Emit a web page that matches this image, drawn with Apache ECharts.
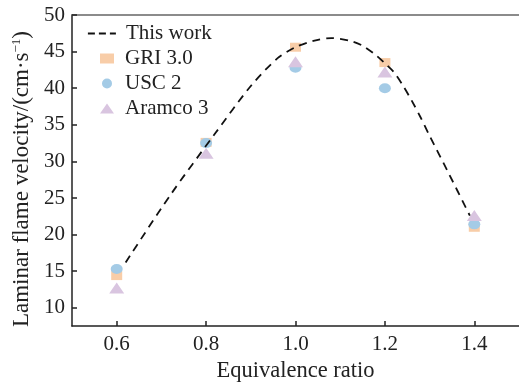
<!DOCTYPE html>
<html>
<head>
<meta charset="utf-8">
<script src="https://cdn.jsdelivr.net/npm/echarts@6/dist/echarts.min.js"></script>
<style>
  html, body { margin: 0; padding: 0; background: #fff; }
  #chart { width: 519px; height: 388px; }
</style>
</head>
<body>
<div id="chart"></div>
<script>
// Equivalence ratios where the mechanisms were evaluated
const ratios = [0.6, 0.8, 1.0, 1.2, 1.4];
// Laminar flame velocity (cm/s) predicted by each mechanism
const gri30 = [14.4, 32.6, 45.6, 43.5, 21.0];
const usc2 = [15.3, 32.5, 42.8, 40.0, 21.4];
const aramco3 = [12.7, 31.1, 43.6, 42.2, 22.6];
// Curve of the present mechanism
const fitPhi = [0.62, 0.72, 0.82, 0.90, 0.96, 1.00, 1.04, 1.08, 1.12, 1.15, 1.18, 1.20, 1.22, 1.24, 1.26, 1.28, 1.30, 1.34, 1.39];
const fitSpeed = [16.2, 25.4, 33.8, 40.3, 44.1, 45.6, 46.45, 46.85, 46.5, 45.8, 44.5, 43.4, 42.2, 40.4, 38.3, 36.0, 33.5, 28.7, 22.6];
// Axis tick values
const xTicks = [0.6, 0.8, 1.0, 1.2, 1.4];
const yTicks = [10, 15, 20, 25, 30, 35, 40, 45, 50];

const FONT = "'Liberation Serif', 'Times New Roman', serif";
const TEXT = '#222';

const pairs = (xs, ys) => xs.map((x, i) => [x, ys[i]]);

const chart = echarts.init(document.getElementById('chart'));
chart.setOption({
  animation: false,
  backgroundColor: '#fff',
  textStyle: { fontFamily: FONT, color: TEXT },
  grid: { left: 72, top: 15, right: -5, bottom: 60 },
  legend: [
    {
      data: ['This work'],
      orient: 'vertical', left: 87, top: 23, padding: 0,
      itemWidth: 28, itemHeight: 14,
      lineStyle: { type: [7, 4], width: 1.8, color: '#111' },
      itemStyle: { opacity: 0 },
      textStyle: { fontFamily: FONT, fontSize: 21, color: TEXT, padding: [0, 0, 0, 5] }
    },
    {
      data: ['GRI 3.0', 'USC 2', 'Aramco 3'],
      orient: 'vertical', left: 100, top: 48, padding: 0,
      itemWidth: 14, itemHeight: 10, itemGap: 4,
      symbolKeepAspect: false,
      textStyle: { fontFamily: FONT, fontSize: 21, color: TEXT, padding: [0, 0, 0, 6] }
    }
  ],
  xAxis: [
    {
      type: 'value', min: 0.5, max: 1.5,
      name: 'Equivalence ratio', nameLocation: 'middle', nameGap: 32,
      nameTextStyle: { fontFamily: FONT, fontSize: 22.5, color: TEXT },
      axisLine: { lineStyle: { color: '#222', width: 1.5 } },
      axisTick: { inside: true, length: 5, customValues: xTicks, lineStyle: { color: '#222', width: 1.5 } },
      axisLabel: { customValues: xTicks, fontFamily: FONT, fontSize: 21, color: TEXT, margin: 8,
                   formatter: v => v.toFixed(1) },
      splitLine: { show: false }
    },
    {
      type: 'value', position: 'top', min: 0.5, max: 1.5,
      axisLine: { show: true, lineStyle: { color: '#666', width: 1.5 } },
      axisTick: { show: false }, axisLabel: { show: false }, splitLine: { show: false }
    }
  ],
  yAxis: {
    type: 'value', min: 7.5, max: 50,
    name: 'Laminar flame velocity/(cm·s{sup|−1})',
    nameLocation: 'middle', nameGap: 38, nameRotate: 90,
    nameTextStyle: {
      fontFamily: FONT, fontSize: 23, color: TEXT, padding: [0, 17, 0, 0],
      rich: { sup: { fontFamily: FONT, fontSize: 13, color: TEXT, verticalAlign: 'top', padding: [0, 0, 10, 0] } }
    },
    axisLine: { show: true, lineStyle: { color: '#222', width: 1.5 } },
    axisTick: { show: true, inside: true, length: 5, customValues: yTicks, lineStyle: { color: '#222', width: 1.5 } },
    axisLabel: { customValues: yTicks, fontFamily: FONT, fontSize: 21, color: TEXT, margin: 7 },
    splitLine: { show: false }
  },
  series: [
    {
      name: 'This work', type: 'line', z: 5,
      data: pairs(fitPhi, fitSpeed),
      smooth: 0.3, showSymbol: false, symbol: 'none',
      lineStyle: { color: '#111', width: 1.8, type: [8, 6] },
      itemStyle: { color: '#111' }
    },
    {
      name: 'GRI 3.0', type: 'scatter', z: 2,
      data: pairs(ratios, gri30),
      symbol: 'rect', symbolSize: [11, 9],
      itemStyle: { color: '#F8CDA8', opacity: 1 }
    },
    {
      name: 'USC 2', type: 'scatter', z: 3,
      data: pairs(ratios, usc2),
      symbol: 'circle', symbolSize: [12, 10],
      itemStyle: { color: '#A4CBE6', opacity: 1 }
    },
    {
      name: 'Aramco 3', type: 'scatter', z: 4,
      data: pairs(ratios, aramco3),
      symbol: 'triangle', symbolSize: [15, 11],
      itemStyle: { color: '#D9C5E0', opacity: 1 }
    }
  ]
});
</script>
</body>
</html>
